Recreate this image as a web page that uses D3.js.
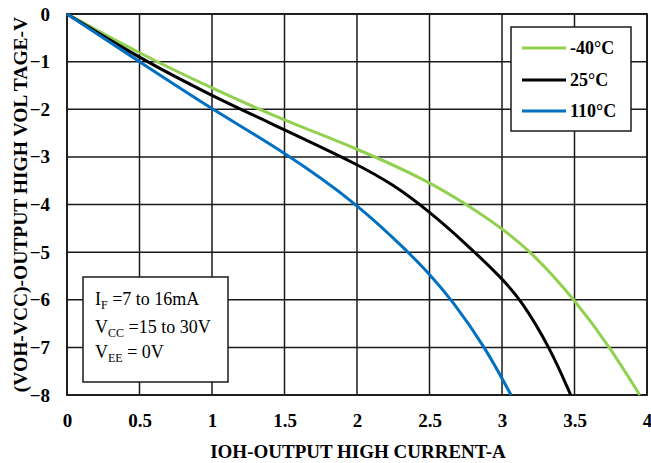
<!DOCTYPE html>
<html><head><meta charset="utf-8">
<script src="https://cdn.jsdelivr.net/npm/d3@7"></script>
<style>body{margin:0;background:#fff}svg{display:block}</style>
</head><body>
<svg id="c" width="651" height="463"></svg>
<script>
const seriesNames = ["-40°C", "25°C", "110°C"];
const seriesColors = ["#92D050", "#000000", "#0070C0"];
const curveM40 = [[0,0],[0.5,-0.83],[1,-1.56],[1.5,-2.24],[2,-2.82],[2.5,-3.52],[2.75,-3.99],[3,-4.5],[3.205,-5],[3.503,-6],[3.745,-7],[3.95,-8]];
const curve25 = [[0,0],[0.5,-0.93],[1,-1.72],[1.5,-2.43],[2,-3.15],[2.25,-3.58],[2.5,-4.15],[2.75,-4.82],[3,-5.55],[3.13,-6],[3.33,-7],[3.474,-8]];
const curve110 = [[0,0],[0.5,-1.0],[1,-2.0],[1.5,-2.9],[2,-3.98],[2.354,-5],[2.5,-5.46],[2.653,-6],[2.885,-7],[3.062,-8]];
const xTicks = [0,0.5,1,1.5,2,2.5,3,3.5,4];
const yTicks = [0,-1,-2,-3,-4,-5,-6,-7,-8];
const xTitle = "IOH-OUTPUT HIGH CURRENT-A";
const yTitle = "(VOH-VCC)-OUTPUT HIGH VOL TAGE-V";

const svg = d3.select("#c");
const L=67,R=647,T=14,B=395;
const x = d3.scaleLinear().domain([0,4]).range([L,R]);
const y = d3.scaleLinear().domain([0,-8]).range([T,B]);
const font = "'Liberation Serif','Times New Roman',serif";

// grid
const g = svg.append("g");
g.selectAll("line.v").data(xTicks).join("line")
 .attr("x1",d=>x(d)).attr("x2",d=>x(d)).attr("y1",T).attr("y2",B)
 .attr("stroke","#1a1a1a").attr("stroke-width",1.5);
g.selectAll("line.h").data(yTicks).join("line").attr("class","h")
 .attr("y1",d=>y(d)).attr("y2",d=>y(d)).attr("x1",L).attr("x2",R)
 .attr("stroke","#1a1a1a").attr("stroke-width",1.5);
svg.append("rect").attr("x",L).attr("y",T).attr("width",R-L).attr("height",B-T)
 .attr("fill","none").attr("stroke","#1a1a1a").attr("stroke-width",1.8);

// axes labels via d3 axes
const xAxis = svg.append("g").attr("transform",`translate(0,${B})`)
 .call(d3.axisBottom(x).tickValues(xTicks).tickSize(0).tickPadding(19).tickFormat(d3.format("")));
const yAxis = svg.append("g").attr("transform",`translate(${L},0)`)
 .call(d3.axisLeft(y).tickValues(yTicks).tickSize(0).tickPadding(17).tickFormat(d3.format("")));
[xAxis,yAxis].forEach(a=>{
  a.select(".domain").remove();
  a.selectAll("text").attr("font-family",font).attr("font-weight","bold").attr("font-size",19).attr("fill","#000");
});

svg.append("text").attr("x",(L+R)/2+1).attr("y",458).attr("text-anchor","middle")
 .attr("font-family",font).attr("font-weight","bold").attr("font-size",19).text(xTitle);
svg.append("text").attr("transform",`translate(27,${(T+B)/2}) rotate(-90)`).attr("text-anchor","middle")
 .attr("font-family",font).attr("font-weight","bold").attr("font-size",19.5).text(yTitle);

// curves
const line = d3.line().x(d=>x(d[0])).y(d=>y(d[1])).curve(d3.curveBasis);
[curveM40,curve25,curve110].forEach((c,i)=>{
  svg.append("path").datum(c).attr("d",line).attr("fill","none")
   .attr("stroke",seriesColors[i]).attr("stroke-width",3);
});

// legend
svg.append("rect").attr("x",511).attr("y",27).attr("width",120).attr("height",104)
 .attr("fill","#fff").attr("stroke","#1a1a1a").attr("stroke-width",1.5);
const ly=[48,80,111];
seriesNames.forEach((n,i)=>{
  svg.append("line").attr("x1",522).attr("x2",566).attr("y1",ly[i]).attr("y2",ly[i])
   .attr("stroke",seriesColors[i]).attr("stroke-width",3);
  svg.append("text").attr("x",570).attr("y",ly[i]+6).attr("font-family",font)
   .attr("font-weight","bold").attr("font-size",18).text(n);
});

// annotation
svg.append("rect").attr("x",83).attr("y",277).attr("width",145).attr("height",105)
 .attr("fill","#fff").attr("stroke","#1a1a1a").attr("stroke-width",1.5);
const ann = [["I","F"," =7 to 16mA",305],["V","CC"," =15 to 30V",333],["V","EE"," = 0V",358]];
ann.forEach(a=>{
  const t=svg.append("text").attr("x",95).attr("y",a[3]).attr("font-family",font).attr("font-size",18).attr("xml:space","preserve");
  t.append("tspan").text(a[0]);
  t.append("tspan").attr("dy",4).attr("font-size",12).text(a[1]);
  t.append("tspan").attr("dy",-4).text(a[2]);
});
</script>
</body></html>
